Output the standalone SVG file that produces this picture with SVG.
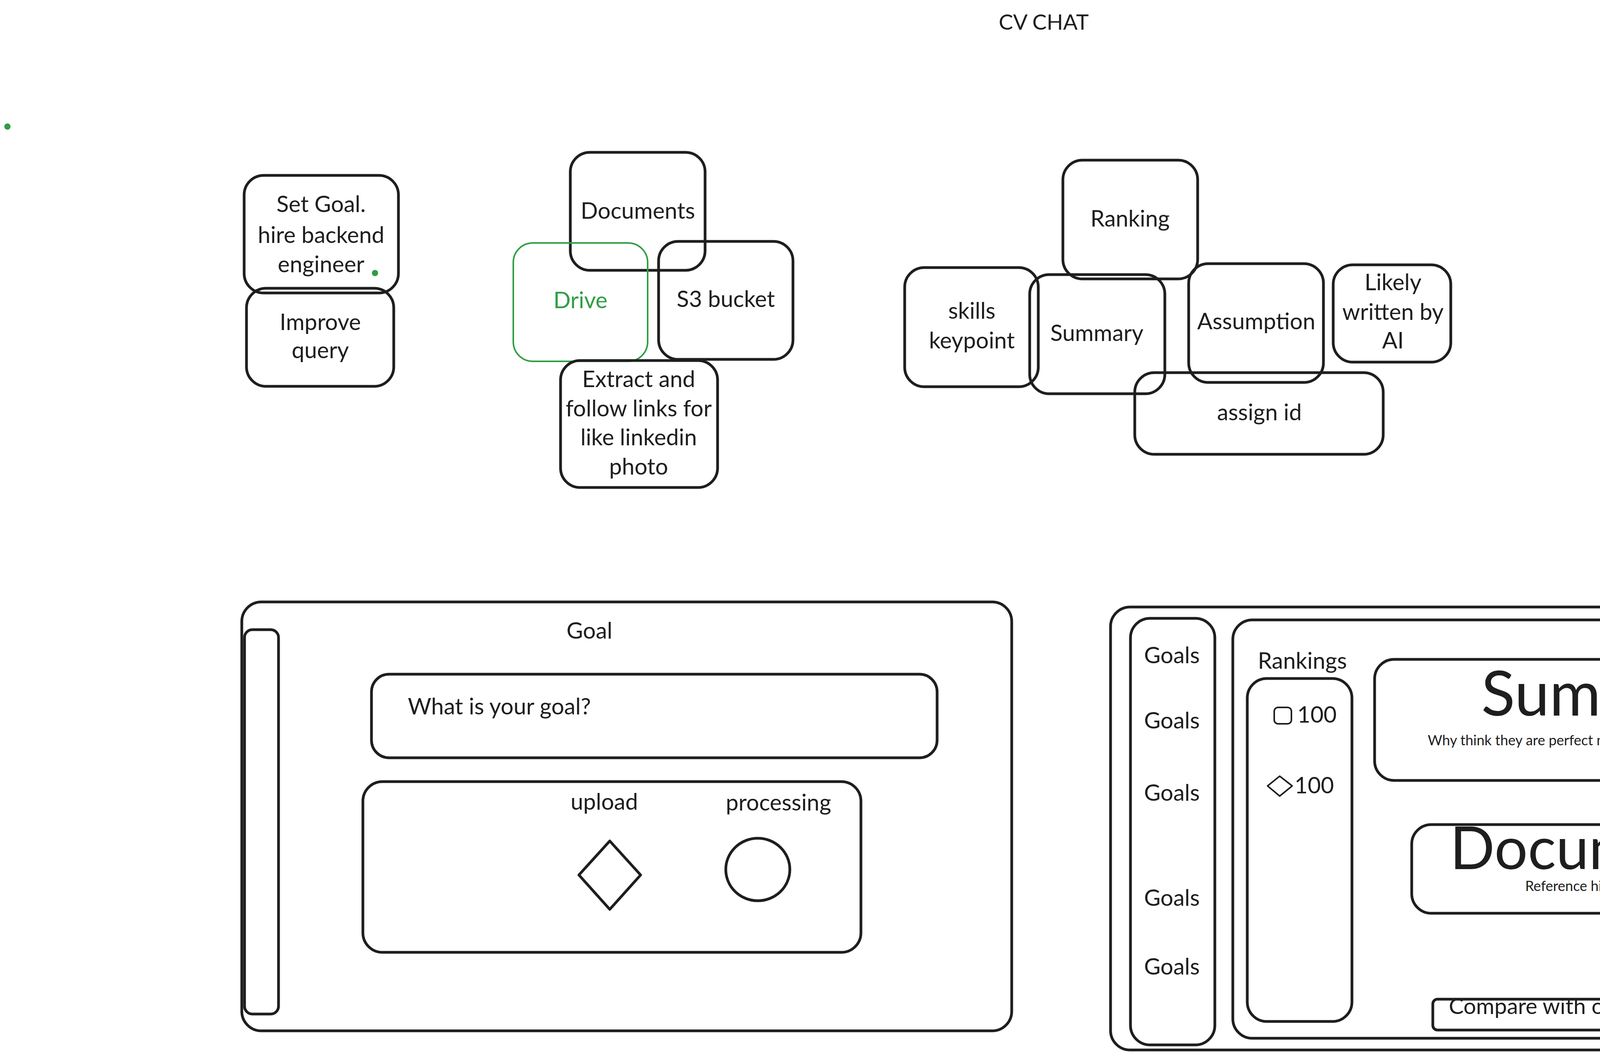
<svg xmlns="http://www.w3.org/2000/svg" width="5862" height="2706" viewBox="0 0 5862 2706">
<style>
.b{fill:none;stroke:#1e1e1e;stroke-width:7;stroke-linejoin:round}
.gs{fill:none;stroke:#2f9e44;stroke-width:4}
.dot{fill:#2f9e44}
text{font-family:Lato,"Noto Sans","Liberation Sans",sans-serif;fill:#1e1e1e}
.t{font-size:58px;text-anchor:middle}
.s{font-size:58px}
.green{fill:#2f9e44}
</style>
<rect x="0" y="0" width="5862" height="2706" fill="#ffffff"/>
<g id="connectors"></g>

<g id="title"><text class="t" x="2672" y="76" style="font-size:55px">CV CHAT</text></g>
<g id="dot-left"><circle class="dot" cx="19" cy="324" r="8"/></g>

<g id="set-goal">
<rect class="b" x="625" y="449" width="395" height="301" rx="50"/>
<text class="t" x="822" y="543">Set Goal.</text>
<text class="t" x="822" y="622">hire backend</text>
<text class="t" x="822" y="697">engineer</text>
<circle class="dot" cx="960" cy="699" r="8"/>
</g>
<g id="improve-query">
<rect class="b" x="631" y="738" width="377" height="251" rx="50"/>
<text class="t" x="820" y="845">Improve</text>
<text class="t" x="820" y="917">query</text>
</g>

<g id="documents">
<rect class="b" x="1460" y="390" width="345" height="302" rx="50"/>
<text class="t" x="1633" y="560">Documents</text>
</g>
<g id="drive">
<rect class="gs" x="1314" y="622" width="344" height="303" rx="50"/>
<text class="t green" x="1486" y="789">Drive</text>
</g>
<g id="s3-bucket">
<rect class="b" x="1686" y="618" width="344" height="302" rx="50"/>
<text class="t" x="1858" y="786">S3 bucket</text>
</g>
<g id="extract">
<rect class="b" x="1435" y="923" width="402" height="325" rx="50"/>
<text class="t" x="1635" y="991">Extract and</text>
<text class="t" x="1635" y="1066">follow links for</text>
<text class="t" x="1635" y="1140">like linkedin</text>
<text class="t" x="1635" y="1215">photo</text>
</g>

<g id="ranking">
<rect class="b" x="2721" y="410" width="345" height="304" rx="50"/>
<text class="t" x="2893" y="580">Ranking</text>
</g>
<g id="skills-keypoint">
<rect class="b" x="2316" y="685" width="342" height="305" rx="50"/>
<text class="t" x="2488" y="816">skills</text>
<text class="t" x="2488" y="892">keypoint</text>
</g>
<g id="summary">
<rect class="b" x="2636" y="703" width="346" height="305" rx="50"/>
<text class="t" x="2808" y="873">Summary</text>
</g>
<g id="assumption">
<rect class="b" x="3043" y="675" width="345" height="304" rx="50"/>
<text class="t" x="3216" y="843">Assumption</text>
</g>
<g id="likely-ai">
<rect class="b" x="3413" y="678" width="301" height="249" rx="50"/>
<text class="t" x="3566" y="743">Likely</text>
<text class="t" x="3566" y="819">written by</text>
<text class="t" x="3566" y="892">AI</text>
</g>
<g id="assign-id">
<rect class="b" x="2905" y="954" width="636" height="209" rx="50"/>
<text class="t" x="3224" y="1076">assign id</text>
</g>

<g id="database-structure">
<rect class="b" x="4369" y="213" width="1452" height="872" rx="50"/>
<text class="t" x="5066" y="313">Database structure (anasi)</text>
</g>
<g id="db-goal">
<rect class="b" x="4955" y="365" width="260" height="92" rx="20"/>
<text class="t" x="5071" y="426">GOAL</text>
</g>
<g id="db-documents">
<ellipse class="b" cx="4724" cy="550" rx="194" ry="35"/>
<text class="t" x="4709" y="564">documents</text>
</g>
<g id="db-initial-ranking">
<ellipse class="b" cx="5140" cy="555" rx="215" ry="54"/>
<text class="t" x="5117" y="564">inital ranking</text>
</g>
<g id="db-queries">
<ellipse class="b" cx="5565" cy="543" rx="143" ry="36"/>
<text class="t" x="5553" y="553">queries</text>
</g>
<g id="db-ranking-new-query">
<rect class="b" x="5361" y="625" width="482" height="30" rx="6" style="stroke-width:4"/>
<text class="t" x="5602" y="652" style="font-size:36px">ranking based on new query</text>
</g>
<g id="db-summary">
<ellipse class="b" cx="5158" cy="739" rx="190" ry="69"/>
<text class="t" x="5158" y="756">summary</text>
</g>
<g id="db-reference">
<ellipse class="b" cx="5151" cy="950" rx="229" ry="68"/>
<text class="t" x="5152" y="967">reference</text>
</g>

<g id="goal-panel">
<rect class="b" x="619" y="1541" width="1971" height="1098" rx="50"/>
<rect class="b" x="626" y="1612" width="87" height="984" rx="20"/>
<text class="t" x="1509" y="1635">Goal</text>
</g>
<g id="goal-input">
<rect class="b" x="951" y="1726" width="1448" height="214" rx="45"/>
<text class="s" x="1044" y="1829">What is your goal?</text>
</g>
<g id="upload-panel">
<rect class="b" x="929" y="2001" width="1275" height="437" rx="50"/>
<text class="t" x="1547" y="2073">upload</text>
<text class="t" x="1993" y="2075">processing</text>
<path class="b" d="M1561 2153 L1640 2240 L1561 2328 L1482 2240 Z"/>
<ellipse class="b" cx="1940" cy="2226" rx="82" ry="80"/>
</g>

<g id="results-panel">
<rect class="b" x="2843" y="1554" width="1968" height="1134" rx="50"/>
</g>
<g id="goals-column">
<rect class="b" x="2894" y="1583" width="216" height="1092" rx="50"/>
<text class="t" x="3000" y="1698">Goals</text>
<text class="t" x="3000" y="1865">Goals</text>
<text class="t" x="3000" y="2050">Goals</text>
<text class="t" x="3000" y="2319">Goals</text>
<text class="t" x="3000" y="2495">Goals</text>
</g>
<g id="main-panel">
<rect class="b" x="3156" y="1587" width="1570" height="1071" rx="50"/>
</g>
<g id="prompt-query">
<rect class="b" x="4130" y="1528" width="616" height="201" rx="45"/>
<text class="t" x="4437" y="1608">prompt/query, the</text>
<text class="t" x="4437" y="1683">summary?</text>
</g>
<g id="rankings">
<text class="t" x="3334" y="1712">Rankings</text>
<rect class="b" x="3193" y="1737" width="268" height="878" rx="50"/>
<rect class="b" x="3262" y="1811" width="44" height="42" rx="10" style="stroke-width:4"/>
<text class="s" x="3321" y="1850">100</text>
<path class="b" d="M3276 1987 L3308 2012 L3276 2038 L3245 2012 Z" style="stroke-width:4"/>
<text class="s" x="3314" y="2031">100</text>
</g>
<g id="summary-card">
<rect class="b" x="3519" y="1688" width="1201" height="310" rx="50"/>
<text class="t" x="4121" y="1832" style="font-size:160px">Summary</text>
<text class="t" x="4079" y="1908" style="font-size:36px">Why think they are perfect match, refer to documents</text>
</g>
<g id="documents-card">
<rect class="b" x="3614" y="2111" width="923" height="227" rx="50"/>
<text class="t" x="4093" y="2225" style="font-size:151px">Documents</text>
<text class="t" x="4076" y="2281" style="font-size:36px">Reference highlighted</text>
</g>
<g id="compare">
<rect class="b" x="3668" y="2558" width="768" height="79" rx="12"/>
<text class="s" x="3709" y="2596" style="font-size:57px">Compare with others</text>
</g>

<g id="coverletter">
<rect x="5118" y="2212" width="329" height="130" rx="30" fill="#a5d8ff" stroke="#1e1e1e" stroke-width="6"/>
<text class="t" x="5284" y="2283" style="font-size:23px">Coverletter not analyzed yet</text>
</g>
</svg>
